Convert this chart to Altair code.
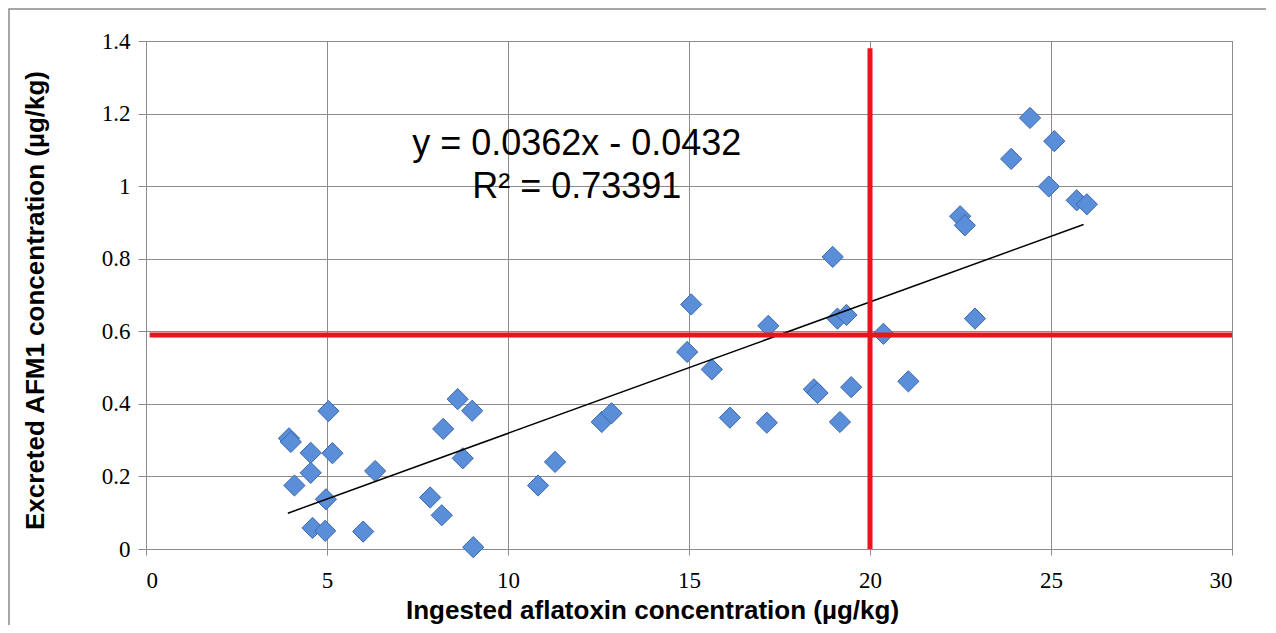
import altair as alt
import pandas as pd

# Scatter data
ingested = [3.95, 4.0, 4.1, 4.55, 4.55, 4.6, 4.95, 4.97, 5.04, 5.15,
            6.0, 6.33, 7.85, 8.17, 8.21, 8.61, 8.75, 9.01, 9.04, 10.83,
            11.3, 12.59, 12.86, 14.95, 15.06, 15.63, 16.13, 17.15, 17.19, 18.45,
            18.55, 18.97, 19.1, 19.17, 19.35, 19.48, 20.37, 21.06, 22.49, 22.62,
            22.9, 23.9, 24.42, 24.94, 25.09, 25.71, 25.99]
excreted = [0.305, 0.295, 0.175, 0.265, 0.21, 0.058, 0.05, 0.137, 0.38, 0.264,
            0.048, 0.215, 0.142, 0.093, 0.331, 0.413, 0.25, 0.381, 0.005, 0.175,
            0.24, 0.35, 0.374, 0.543, 0.674, 0.495, 0.362, 0.348, 0.615, 0.44,
            0.43, 0.805, 0.635, 0.35, 0.645, 0.446, 0.593, 0.462, 0.917, 0.892,
            0.635, 1.075, 1.188, 0.999, 1.124, 0.961, 0.950]

# Trend line (from the displayed equation)
slope = 0.0362
intercept = -0.0432
trend_x = [3.92, 25.9]

# Red threshold lines
h_line_y = 0.59
h_line_x = [0.1, 30]
v_line_x = 20
v_line_y = [0, 1.38]

# Equation annotations
eq_labels = ["y = 0.0362x - 0.0432", "R² = 0.73391"]
eq_x = [11.9, 11.9]
eq_y = [1.086, 0.967]

x_ticks = [0, 5, 10, 15, 20, 25, 30]
y_ticks = [0, 0.2, 0.4, 0.6, 0.8, 1.0, 1.2, 1.4]

pts = pd.DataFrame({"x": ingested, "y": excreted})
trend = pd.DataFrame({"x": trend_x, "y": [slope * v + intercept for v in trend_x]})
hline = pd.DataFrame({"x": [h_line_x[0]], "x2": [h_line_x[1]], "y": [h_line_y]})
vline = pd.DataFrame({"x": [v_line_x], "y": [v_line_y[0]], "y2": [v_line_y[1]]})
eq = pd.DataFrame({"x": eq_x, "y": eq_y, "label": eq_labels})

xscale = alt.Scale(domain=[0, 30], nice=False, zero=True)
yscale = alt.Scale(domain=[0, 1.4], nice=False, zero=True)

xaxis = alt.Axis(
    values=x_ticks, title="Ingested aflatoxin concentration (µg/kg)",
    labelFont="Liberation Serif", labelFontSize=23, labelColor="#000",
    labelPadding=14, tickSize=6,
    titleFont="Liberation Sans", titleFontSize=26, titleFontWeight="bold", titleColor="#000",
    titleX=506, titleY=69, titleAlign="center", titleBaseline="alphabetic",
)
yaxis = alt.Axis(
    values=y_ticks, format=".1~f", title="Excreted AFM1 concentration (µg/kg)",
    labelFont="Liberation Serif", labelFontSize=23, labelColor="#000",
    labelPadding=8, tickSize=8,
    titleFont="Liberation Sans", titleFontSize=26, titleFontWeight="bold", titleColor="#000",
    titleX=-111, titleY=259, titleAlign="center", titleBaseline="middle", titleAngle=-90,
)

frame = alt.Chart(pd.DataFrame({"a": [0]})).mark_rect(
    fill="transparent", stroke="#8a8a8a", strokeWidth=1.5
).encode(x=alt.value(-137), y=alt.value(-32), x2=alt.value(1600), y2=alt.value(1200))

points = alt.Chart(pts).mark_point(
    shape="diamond", size=450, filled=True, fill="#5a8ed8", stroke="#3b68ad",
    strokeWidth=1, opacity=1
).encode(x=alt.X("x:Q", scale=xscale, axis=xaxis), y=alt.Y("y:Q", scale=yscale, axis=yaxis))

trend_line = alt.Chart(trend).mark_line(color="#000", strokeWidth=1.5).encode(
    x=alt.X("x:Q", scale=xscale), y=alt.Y("y:Q", scale=yscale)
)

red_h = alt.Chart(hline).mark_rule(color="#e8151c", strokeWidth=5).encode(
    x=alt.X("x:Q", scale=xscale), x2="x2:Q", y=alt.Y("y:Q", scale=yscale)
)
red_v = alt.Chart(vline).mark_rule(color="#e8151c", strokeWidth=5).encode(
    x=alt.X("x:Q", scale=xscale), y=alt.Y("y:Q", scale=yscale), y2="y2:Q"
)

text = alt.Chart(eq).mark_text(
    font="Liberation Sans", fontSize=36, align="center", baseline="alphabetic", color="#000"
).encode(x=alt.X("x:Q", scale=xscale), y=alt.Y("y:Q", scale=yscale), text="label:N")

chart = alt.layer(frame, points, trend_line, red_h, red_v, text).properties(
    width=1086, height=508,
    autosize=alt.AutoSizeParams(type="none"),
    padding={"left": 138, "top": 33, "right": 34, "bottom": 76},
    background="white",
).configure_view(stroke="#8a8a8a", strokeWidth=1).configure_axis(
    gridColor="#8c8c8c", gridWidth=1, domainColor="#8c8c8c", tickColor="#8c8c8c",
    grid=True,
)

chart.save("out.html", embed_options={"renderer": "svg", "actions": False})
